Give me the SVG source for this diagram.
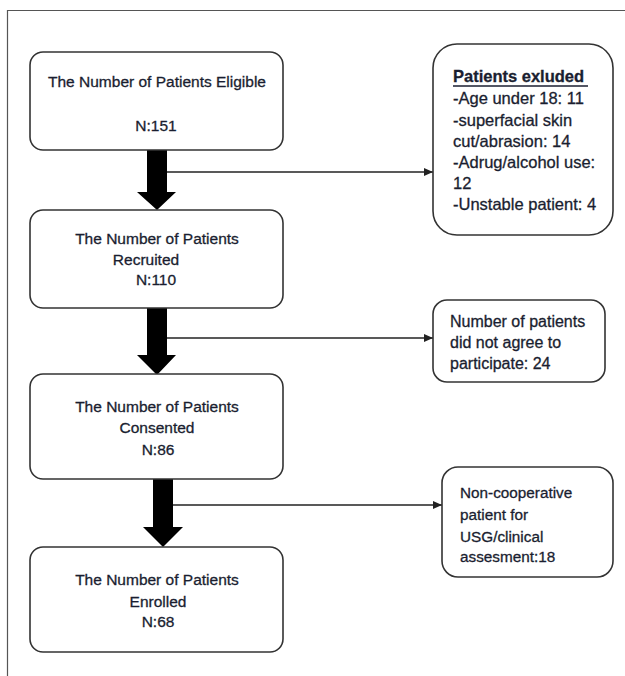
<svg xmlns="http://www.w3.org/2000/svg" width="625" height="676" viewBox="0 0 625 676">
<style>
.box{fill:#fff;stroke:#333;stroke-width:1.6}
.t{font-family:"Liberation Sans",Arial,sans-serif;font-size:15.5px;fill:#1a1e30;stroke:#1a1e30;stroke-width:0.3}
.r{font-size:16.5px}
.r2{font-size:16px}
.r3{font-size:15.3px}
.c{text-anchor:middle}
.b{font-weight:bold}
.ln{stroke:#222;stroke-width:1.6;fill:none}
.thick{fill:#000}
</style>
<defs>
<marker id="ah" markerWidth="10" markerHeight="10" refX="9" refY="5" orient="auto" markerUnits="userSpaceOnUse">
<path d="M0,1 L9,5 L0,9 Z" fill="#222"/>
</marker>
</defs>
<rect width="625" height="676" fill="#fff"/>
<path d="M7.5,676 V10.5 H625" fill="none" stroke="#555" stroke-width="1.2"/>

<g id="connectors">
<path class="thick" d="M147,150 H167 V192 H176 L157,210 L137,192 H147 Z"/>
<line class="ln" x1="167" y1="172" x2="433" y2="172" marker-end="url(#ah)"/>
<path class="thick" d="M147,308 H167 V355 H176 L157,375 L137,355 H147 Z"/>
<line class="ln" x1="167" y1="338" x2="433" y2="338" marker-end="url(#ah)"/>
<path class="thick" d="M153,479 H173 V527 H183 L163,547 L143,527 H153 Z"/>
<line class="ln" x1="173" y1="505" x2="442" y2="505" marker-end="url(#ah)"/>
</g>

<g id="eligible">
<rect class="box" x="30" y="52" width="253" height="98" rx="13"/>
<text class="t c" x="157" y="87">The Number of Patients Eligible</text>
<text class="t c" x="156" y="131">N:151</text>
</g>

<g id="excluded">
<rect class="box" x="433" y="44" width="180" height="191" rx="24"/>
<text class="t r b" x="453" y="82">Patients exluded</text>
<line x1="453" y1="86" x2="588" y2="86" stroke="#1a1e30" stroke-width="1.4"/>
<text class="t r" x="453" y="104">-Age under 18: 11</text>
<text class="t r" x="453" y="126">-superfacial skin</text>
<text class="t r" x="453" y="147">cut/abrasion: 14</text>
<text class="t r" x="453" y="168">-Adrug/alcohol use:</text>
<text class="t r" x="453" y="189">12</text>
<text class="t r" x="453" y="210">-Unstable patient: 4</text>
</g>

<g id="recruited">
<rect class="box" x="30" y="210" width="253" height="98" rx="13"/>
<text class="t c" x="157" y="244">The Number of Patients</text>
<text class="t c" x="146" y="265">Recruited</text>
<text class="t c" x="156" y="285">N:110</text>
</g>

<g id="declined">
<rect class="box" x="433" y="300" width="172" height="82" rx="14"/>
<text class="t r2" x="450" y="327">Number of patients</text>
<text class="t r2" x="450" y="348">did not agree to</text>
<text class="t r2" x="450" y="369">participate: 24</text>
</g>

<g id="consented">
<rect class="box" x="30" y="374" width="253" height="105" rx="13"/>
<text class="t c" x="157" y="412">The Number of Patients</text>
<text class="t c" x="157" y="433">Consented</text>
<text class="t c" x="158" y="455">N:86</text>
</g>

<g id="noncoop">
<rect class="box" x="442" y="467" width="171" height="110" rx="16"/>
<text class="t r3" x="460" y="498">Non-cooperative</text>
<text class="t r3" x="460" y="520">patient for</text>
<text class="t r3" x="460" y="542">USG/clinical</text>
<text class="t r3" x="460" y="562">assesment:18</text>
</g>

<g id="enrolled">
<rect class="box" x="30" y="547" width="253" height="105" rx="13"/>
<text class="t c" x="157" y="585">The Number of Patients</text>
<text class="t c" x="158" y="607">Enrolled</text>
<text class="t c" x="158" y="627">N:68</text>
</g>
</svg>
